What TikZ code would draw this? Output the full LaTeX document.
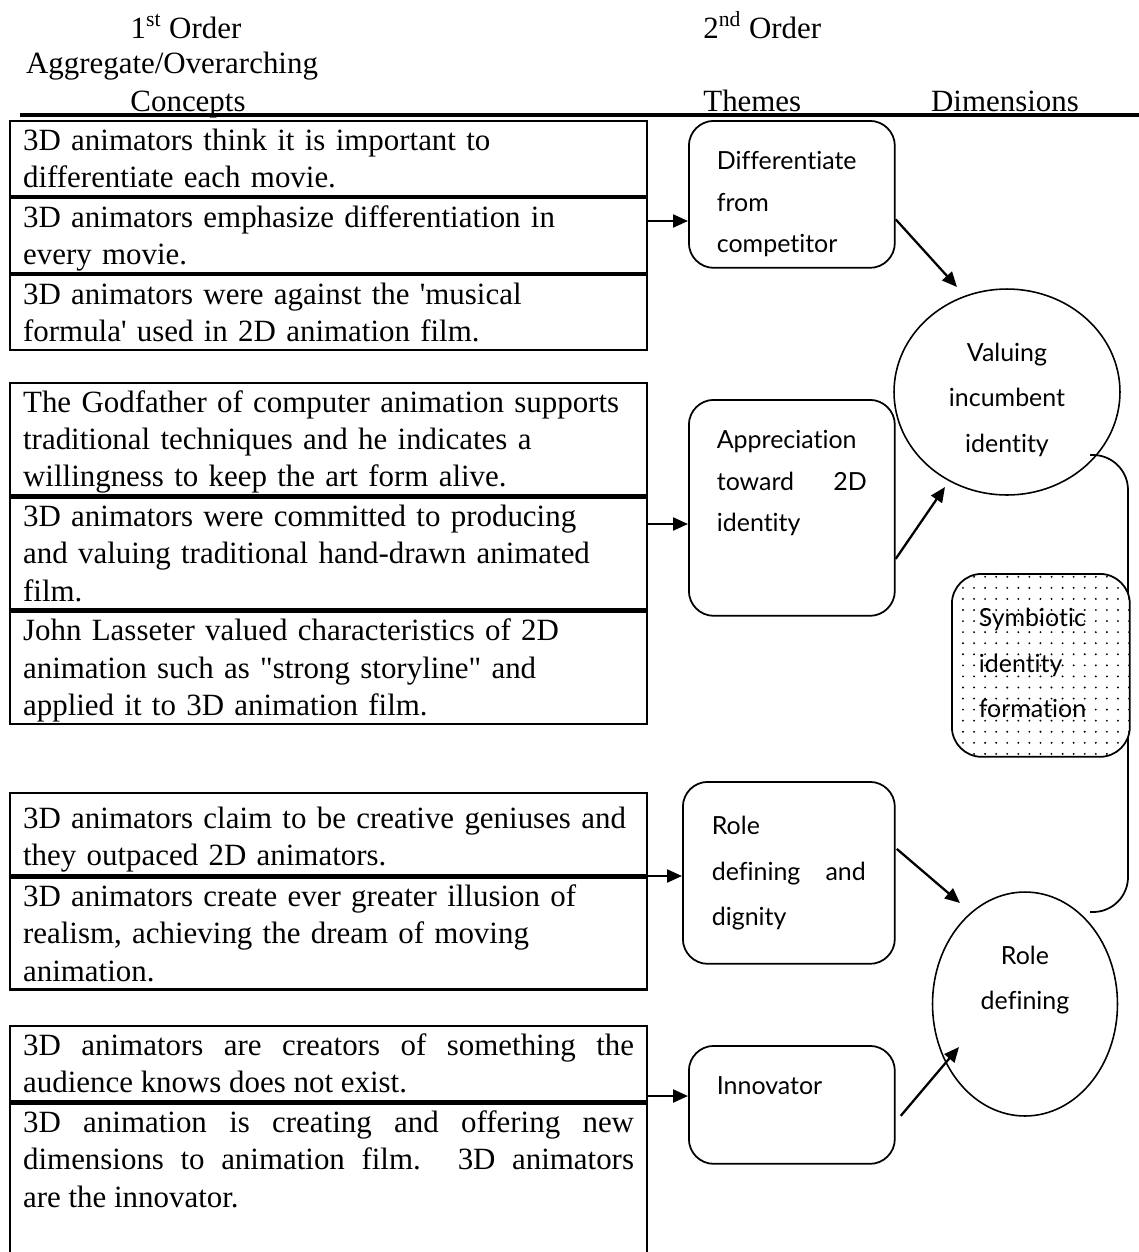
\documentclass[tikz,border=0pt]{standalone}
\usepackage{fontspec}
\setmainfont{Liberation Serif}
\setsansfont{Lato}[Ligatures={NoCommon}]
\usetikzlibrary{arrows.meta,positioning,shapes.geometric,patterns.meta}
\hyphenpenalty=10000
\exhyphenpenalty=10000
\newcommand{\conceptfont}{\fontsize{17.6}{21.3}\selectfont}
\newcommand{\themefont}{\sffamily\fontsize{14.2}{23.6}\selectfont}
\newcommand{\dimfont}{\sffamily\fontsize{14.2}{25.9}\selectfont}
\tikzset{
  >={Triangle[length=3mm,width=2.6mm]},
  heading/.style={anchor=base,inner sep=0pt,font=\conceptfont},
  concept/.style={draw,line width=1.3pt,anchor=north west,inner xsep=0.26cm,inner ysep=0pt,
    text width=12.22cm,text height=0.58cm,text depth=#1,align=left,font=\conceptfont},
  theme/.style={draw,line width=1pt,rounded corners=0.5cm,anchor=north west,inner sep=0pt,
    text width=3cm,text height=0.98cm,text depth=#1,align=left,font=\themefont},
  dimension/.style={draw,ellipse,line width=0.9pt,inner sep=0pt,align=center,font=\dimfont},
  flow/.style={->,line width=1.3pt},
  link/.style={line width=1pt,rounded corners=0.7cm},
}

\begin{document}
\begin{tikzpicture}[x=0.02cm,y=-0.02cm]
  \useasboundingbox (0,0) rectangle (1139,1252);
  \clip (0,0) rectangle (1139,1252);
  % column headings
  \node[heading] (h1) at (186,38) {1\textsuperscript{st} Order};
  \node[heading] (h2) at (172,73) {Aggregate/Overarching};
  \node[heading] (h3) at (188,111) {Concepts};
  \node[heading,anchor=base west] (h4) at (703,38) {2\textsuperscript{nd} Order};
  \node[heading,anchor=base west] (h5) at (703,111) {Themes};
  \node[heading] (h6) at (1005,111) {Dimensions};
  \draw[line width=2.3pt] (20,115) -- (1139,115);
  % first order concepts
  \node[concept=0.914cm] (c1a) at (9,120) {3D animators think it is important to\\differentiate each movie.};
  \node[concept=0.914cm,below=0pt of c1a] (c1b) {3D animators emphasize differentiation in\\every movie.};
  \node[concept=0.914cm,below=0pt of c1b] (c1c) {3D animators were against the \textquotesingle musical\\formula\textquotesingle{} used in 2D animation film.};
  \node[concept=1.66cm] (c2a) at (9,382) {The Godfather of computer animation supports\\traditional techniques and he indicates a\\willingness to keep the art form alive.};
  \node[concept=1.66cm,below=0pt of c2a] (c2b) {3D animators were committed to producing\\and valuing traditional hand-drawn animated\\film.};
  \node[concept=1.66cm,below=0pt of c2b] (c2c) {John Lasseter valued characteristics of 2D\\animation such as \textquotedbl strong storyline\textquotedbl{} and\\applied it to 3D animation film.};
  \node[concept=0.94cm,text height=0.7cm] (c3a) at (9,792) {3D animators claim to be creative geniuses and\\they outpaced 2D animators.};
  \node[concept=1.66cm,below=0pt of c3a] (c3b) {3D animators create ever greater illusion of\\realism, achieving the dream of moving\\animation.};
  \node[concept=0.92cm,align=justify] (c4a) at (9,1025) {3D animators are creators of something the\linebreak audience knows does not exist.};
  \node[concept=5cm,align=justify,below=0pt of c4a] (c4b) {3D animation is creating and offering new\linebreak dimensions to animation film.  3D animators\linebreak are the innovator.};
  % second order themes
  \node[theme=1.96cm,minimum width=4.12cm] (t1) at (688,120) {Differentiate\\from\\competitor};
  \node[theme=3.34cm,minimum width=4.12cm] (t2) at (688,399) {Appreciation\\\makebox[3cm][l]{toward\hfill 2D}\\identity};
  \node[theme=2.58cm,minimum width=4.24cm,text width=3.08cm,text height=1.06cm,font=\dimfont] (t3) at (682,781) {Role\\\makebox[3.08cm][l]{defining\hfill and}\\dignity};
  \node[theme=1.38cm,minimum width=4.12cm] (t4) at (688,1045) {Innovator};
  % aggregate dimensions
  \node[dimension,minimum width=4.52cm,minimum height=4.12cm,text width=2.6cm,text height=0.68cm] (e1) at (1007,392) {Valuing\\incumbent\\identity};
  \node[dimension,minimum width=3.7cm,minimum height=4.48cm,text width=2.4cm,
    text height=0.36cm,text depth=1.96cm] (e2) at (1025,1004) {Role\\defining};
  \draw[link] ([shift={(83,63)}]e1.center) -| ([shift={(103,-92)}]e2.center) -- ([shift={(65,-92)}]e2.center);
  \node[theme=2.6cm,minimum width=3.56cm,text width=2.48cm,text height=1.06cm,rounded corners=0.6cm,
    font=\dimfont,preaction={fill=white},pattern={Dots[distance=6.3pt,radius=0.6pt]},
    pattern color=black] (sym) at (951,573) {Symbiotic\\identity\\formation};
  % arrows
  \foreach \src/\dst/\y in {c1b/t1/221,c2b/t2/524,c3a/t3/876,c4a/t4/1096}
    \draw[flow] (\src.east |- 0,\y) -- (\dst.west |- 0,\y);
  \draw[flow] ([shift={(0,25)}]t1.east) -- ([shift={(-50,-105)}]e1.center);
  \draw[flow] ([shift={(0,51)}]t2.east) -- ([shift={(-62,95)}]e1.center);
  \draw[flow] ([shift={(1,-24)}]t3.east) -- ([shift={(-65,-101)}]e2.center);
  \draw[flow] ([shift={(5,11)}]t4.east) -- ([shift={(-66,43)}]e2.center);
\end{tikzpicture}
\end{document}
